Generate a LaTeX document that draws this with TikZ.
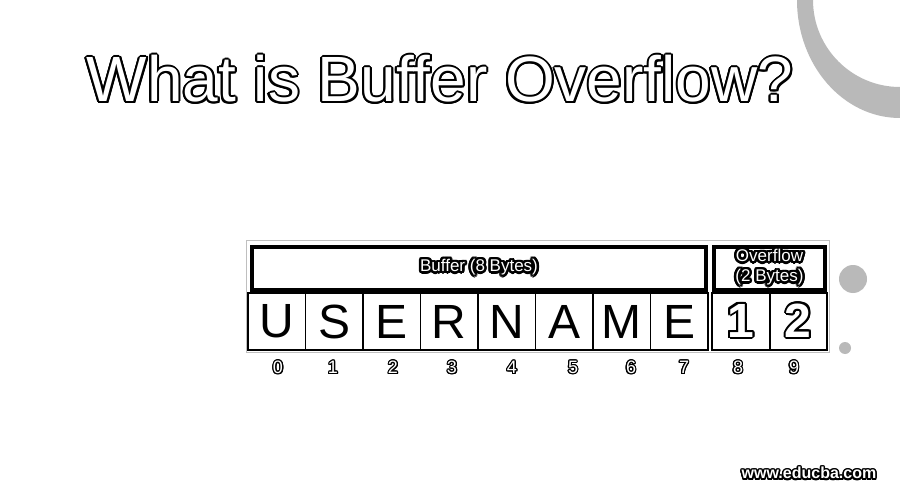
\documentclass[tikz,border=0pt]{standalone}
\usepackage{fontspec}
\setmainfont{Liberation Sans}
\usepackage[copies]{contour}
\contournumber{16}
% white text with a black outline
\newcommand{\ringText}[2]{\contourlength{#1}\contour{black}{\textcolor{white}{#2}}}

\begin{document}
\begin{tikzpicture}[x=1pt, y=-1pt,
	cellBox/.style={rectangle, draw=black, line width=1.2pt, inner sep=0pt, minimum width=57.5pt, minimum height=57pt, font=\fontsize{48}{48}\selectfont},
	overCell/.style={cellBox, line width=2pt, font=\fontsize{48}{48}\selectfont\bfseries},
	headBox/.style={rectangle, draw=black, line width=4pt, inner sep=0pt, minimum height=43pt},
	indexLabel/.style={inner sep=0pt, font=\fontsize{18}{18}\selectfont}]
	\clip (0,0) rectangle (900,500);
	\fill[white] (0,0) rectangle (900,500);

	% corner ring and dots
	\fill[gray!55, even odd rule] (900,0) ellipse [x radius=103pt, y radius=118pt] (900,0) circle [radius=87pt];
	\fill[gray!55] (853,279) circle [radius=14pt];
	\fill[gray!55] (845,348) circle [radius=6pt];

	% title
	\node[inner sep=0pt, font=\fontsize{64}{64}\selectfont](title) at (440,80){\ringText{2pt}{What is Buffer Overflow?}};

	% outer frame
	\draw[gray!50, line width=0.8pt] (246,240) rectangle (829,352);

	% draw header boxes
	\node[headBox, minimum width=454pt](bufferBox) at (479,268.5){};
	\node[inner sep=0pt, font=\fontsize{17}{17}\selectfont](bufferLabel) at (bufferBox.center){\ringText{2.5pt}{Buffer (8 Bytes)}};
	\node[headBox, minimum width=111pt](overflowBox) at (769.5,268.5){};
	\node[inner sep=0pt, align=center, font=\fontsize{17}{20}\selectfont](overflowLabel) at (overflowBox.center){\ringText{2.5pt}{Overflow}\\\ringText{2.5pt}{(2 Bytes)}};

	% draw buffer cells
	\node[cellBox](cell0) at (276.75,321.5){U};
	\node[cellBox](cell1) at (334.25,321.5){S};
	\node[cellBox](cell2) at (391.75,321.5){E};
	\node[cellBox](cell3) at (449.25,321.5){R};
	\node[cellBox](cell4) at (506.75,321.5){N};
	\node[cellBox](cell5) at (564.25,321.5){A};
	\node[cellBox](cell6) at (621.75,321.5){M};
	\node[cellBox](cell7) at (679.25,321.5){E};

	% draw overflow cells
	\node[overCell](cell8) at (740.75,321.5){\ringText{2pt}{1}};
	\node[overCell](cell9) at (798.25,321.5){\ringText{2pt}{2}};

	% draw index labels
	\node[indexLabel](index0) at (278,368){\ringText{1.2pt}{0}};
	\node[indexLabel](index1) at (333,368){\ringText{1.2pt}{1}};
	\node[indexLabel](index2) at (393,368){\ringText{1.2pt}{2}};
	\node[indexLabel](index3) at (452,368){\ringText{1.2pt}{3}};
	\node[indexLabel](index4) at (512,368){\ringText{1.2pt}{4}};
	\node[indexLabel](index5) at (573,368){\ringText{1.2pt}{5}};
	\node[indexLabel](index6) at (631,368){\ringText{1.2pt}{6}};
	\node[indexLabel](index7) at (684,368){\ringText{1.2pt}{7}};
	\node[indexLabel](index8) at (738,368){\ringText{1.2pt}{8}};
	\node[indexLabel](index9) at (794,368){\ringText{1.2pt}{9}};

	% watermark
	\node[inner sep=0pt, font=\fontsize{16}{16}\selectfont\bfseries](siteLabel) at (809,474){\ringText{1.5pt}{www.educba.com}};
\end{tikzpicture}
\end{document}
